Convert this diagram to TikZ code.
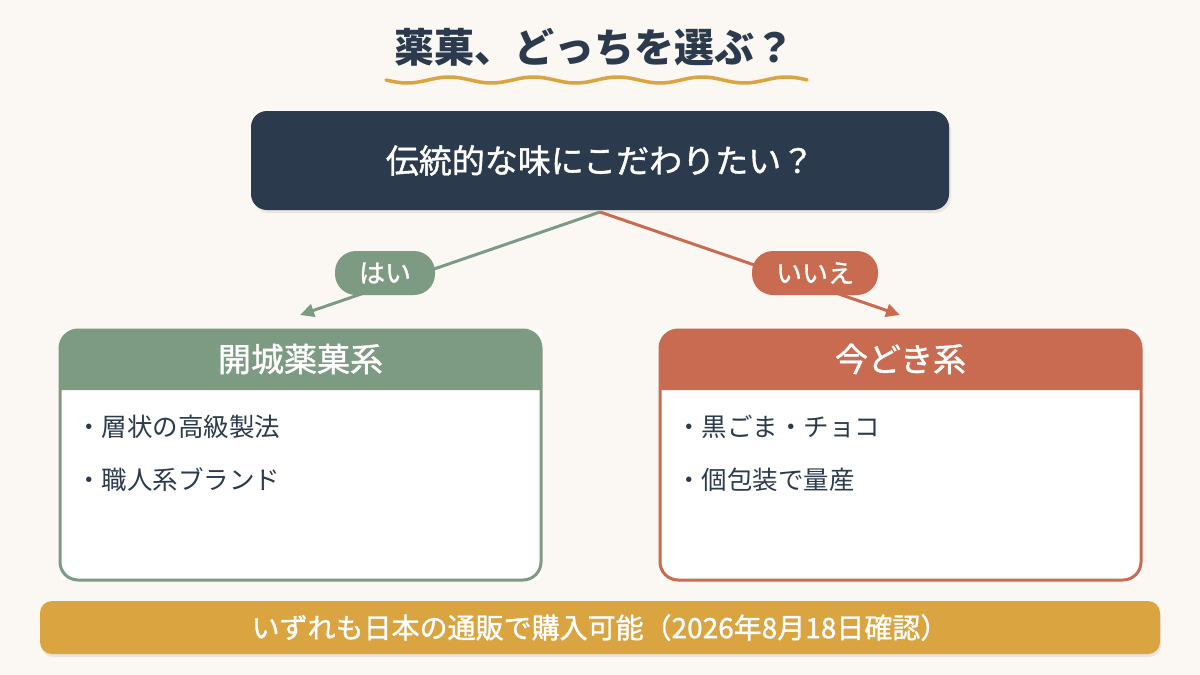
\documentclass[tikz,border=0pt]{standalone}
\usepackage{fontspec}
\setmainfont{Noto Sans CJK JP}
\newfontfamily\medfont[FakeBold=1.2]{Noto Sans CJK JP}
\usetikzlibrary{arrows.meta}
\definecolor{bg}{HTML}{FBF7F3}
\definecolor{navy}{HTML}{2B3A4C}
\definecolor{sage}{HTML}{7D9B83}
\definecolor{terra}{HTML}{C86B50}
\definecolor{gold}{HTML}{DAA440}
\tikzset{
  qbox/.style={fill=navy, text=white, rounded corners=16pt, minimum width=698pt, minimum height=99pt, inner sep=0pt, outer sep=0pt, font=\medfont\fontsize{33}{38}\selectfont},
  pill/.style={fill=#1, text=white, rounded corners=21pt, minimum height=44pt, inner xsep=24pt, inner ysep=0pt, font=\medfont\fontsize{26}{30}\selectfont},
  conn/.style={draw=#1, line width=3pt, -{Triangle[length=14pt,width=13pt]}},
  card/.style={fill=white, minimum width=481pt, minimum height=250pt, inner sep=0pt, outer sep=0pt},
  headtxt/.style={text=white, font=\medfont\fontsize{33}{38}\selectfont},
  itemtxt/.style={text=navy, anchor=west, inner sep=0pt, font=\fontsize{25.5}{30}\selectfont},
  bar/.style={fill=gold, text=white, rounded corners=12pt, minimum width=1120pt, minimum height=53pt, inner sep=0pt, font=\medfont\fontsize{28}{32}\selectfont},
  shadow/.style={fill=black, opacity=0.07}
}
\begin{document}
\begin{tikzpicture}[x=1pt,y=-1pt]
\fill[bg] (0,0) rectangle (1200,675);
\useasboundingbox (0,0) rectangle (1200,675);

% title
\node[text=navy, font=\bfseries\fontsize{40}{48}\selectfont] (title) at (594,47) {薬菓、どっちを選ぶ？};
\draw[gold, line width=3.5pt, line cap=round] plot[domain=386:807, samples=140, smooth] (\x, {80 + 3*sin((\x-386)*4.27)});

% question
\fill[shadow, rounded corners=16pt] (253,114) rectangle (951,213);
\node[qbox] (q) at (600,160.5) {伝統的な味にこだわりたい？};

% connectors
\coordinate (yesEnd) at (300,315);
\coordinate (noEnd) at (900,315);
\draw[conn=sage] ([yshift=-2pt]q.south) -- (yesEnd);
\draw[conn=terra] ([yshift=-2pt]q.south) -- (noEnd);
\node[pill=sage] (yes) at (385,273) {はい};
\node[pill=terra] (no) at (815,273) {いいえ};

% left card
\node[card] (L) at (300.5,455) {};
\fill[sage] ([yshift=-60pt]L.north west) [rounded corners=18pt] -- (L.north west) -- (L.north east) [sharp corners] -- ([yshift=-60pt]L.north east) -- cycle;
\draw[sage, line width=3pt, rounded corners=18pt] (L.north west) rectangle (L.south east);
\node[headtxt] (Lh) at (300.5,359) {開城薬菓系};
\node[itemtxt] (L1) at (76,427) {・層状の高級製法};
\node[itemtxt] (L2) at (76,480) {・職人系ブランド};

% right card
\node[card] (R) at (900.5,455) {};
\fill[terra] ([yshift=-60pt]R.north west) [rounded corners=18pt] -- (R.north west) -- (R.north east) [sharp corners] -- ([yshift=-60pt]R.north east) -- cycle;
\draw[terra, line width=3pt, rounded corners=18pt] (R.north west) rectangle (R.south east);
\node[headtxt] (Rh) at (900.5,359) {今どき系};
\node[itemtxt] (R1) at (676,427) {・黒ごま・チョコ};
\node[itemtxt] (R2) at (676,480) {・個包装で量産};

% bottom note
\fill[shadow, rounded corners=12pt] (41,604) rectangle (1161,657);
\node[bar] (note) at (600,627.5) {いずれも日本の通販で購入可能（2026年8月18日確認）};
\end{tikzpicture}
\end{document}
